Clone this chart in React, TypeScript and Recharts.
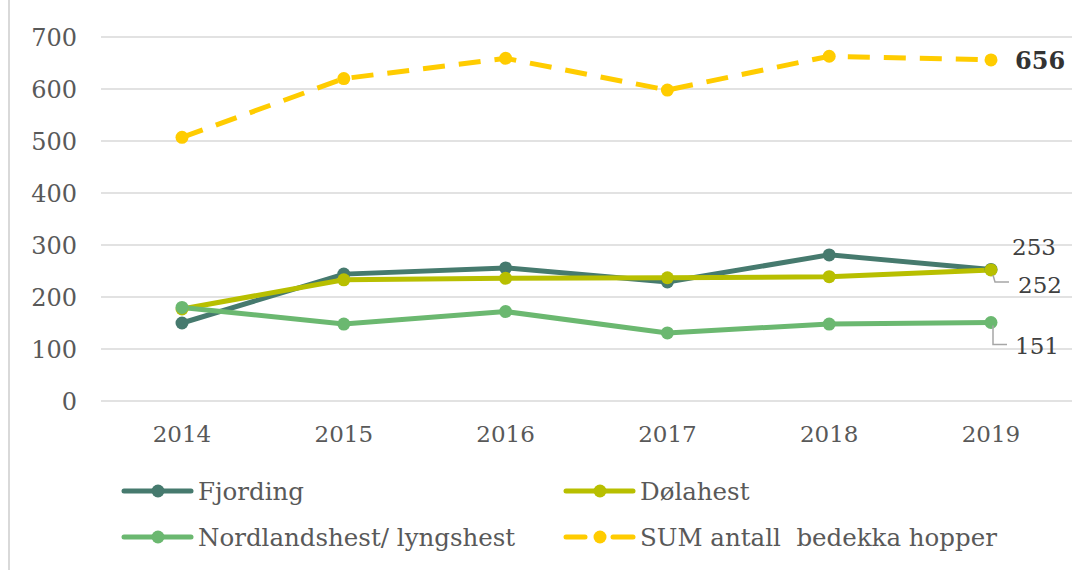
import React from "react";
import {
  LineChart,
  Line,
  XAxis,
  YAxis,
  CartesianGrid,
  LabelList,
} from "recharts";

const years = ["2014", "2015", "2016", "2017", "2018", "2019"];
const fjording = [150, 244, 256, 229, 281, 253];
const dolahest = [177, 233, 236, 237, 239, 252];
const nordland = [180, 148, 172, 131, 148, 151];
const sumHopper = [507, 620, 659, 598, 663, 656];
const yTicks = [0, 100, 200, 300, 400, 500, 600, 700];

const FONT = "'DejaVu Serif', serif";
const TEXT = "#595959";

// series colours
const C_FJORD = "#467a6e";
const C_DOLA = "#b8bf00";
const C_NORD = "#6bb870";
const C_SUM = "#ffcc00";

const chartData = years.map((year, i) => ({
  year,
  fjording: fjording[i],
  dolahest: dolahest[i],
  nordland: nordland[i],
  sum: sumHopper[i],
}));

const last = years.length - 1;

// end-of-line value labels
const sumLabel = (props: any) => {
  if (props.index !== last) return null;
  return (
    <text x={props.x + 24} y={props.y + 9} fontSize={24} fontWeight="bold" fill="#333" fontFamily={FONT}>
      {props.value}
    </text>
  );
};

const fjordLabel = (props: any) => {
  if (props.index !== last) return null;
  return (
    <text x={props.x + 21} y={props.y - 14} fontSize={23} fill="#404040" fontFamily={FONT}>
      {props.value}
    </text>
  );
};

const dolaLabel = (props: any) => {
  if (props.index !== last) return null;
  const { x, y } = props;
  return (
    <g>
      <polyline points={`${x + 2},${y + 5} ${x + 4},${y + 12} ${x + 18},${y + 12}`} fill="none" stroke="#a6a6a6" strokeWidth={1.5} />
      <text x={x + 27} y={y + 23} fontSize={23} fill="#404040" fontFamily={FONT}>
        {props.value}
      </text>
    </g>
  );
};

const nordLabel = (props: any) => {
  if (props.index !== last) return null;
  const { x, y } = props;
  return (
    <g>
      <polyline points={`${x + 2},${y + 3} ${x + 2},${y + 22} ${x + 16},${y + 22}`} fill="none" stroke="#a6a6a6" strokeWidth={1.5} />
      <text x={x + 24} y={y + 32} fontSize={23} fill="#404040" fontFamily={FONT}>
        {props.value}
      </text>
    </g>
  );
};

const legendItems = [
  { name: "Fjording", color: C_FJORD, dashed: false, left: 121, top: 491 },
  { name: "Dølahest", color: C_DOLA, dashed: false, left: 563, top: 491 },
  { name: "Nordlandshest/ lyngshest", color: C_NORD, dashed: false, left: 121, top: 537 },
  { name: "SUM antall  bedekka hopper", color: C_SUM, dashed: true, left: 563, top: 537 },
];

function LegendRow({ item }: { item: (typeof legendItems)[number] }) {
  return (
    <div
      style={{
        position: "absolute",
        left: item.left,
        top: item.top - 16,
        height: 32,
        display: "flex",
        alignItems: "center",
      }}
    >
      <svg width={76} height={16}>
        {item.dashed ? (
          <>
            <line x1={3} y1={8} x2={22} y2={8} stroke={item.color} strokeWidth={5} strokeLinecap="round" />
            <line x1={50} y1={8} x2={70} y2={8} stroke={item.color} strokeWidth={5} strokeLinecap="round" />
          </>
        ) : (
          <line x1={3} y1={8} x2={70} y2={8} stroke={item.color} strokeWidth={5} strokeLinecap="round" />
        )}
        <circle cx={37} cy={8} r={6.5} fill={item.color} />
      </svg>
      <span style={{ fontFamily: FONT, fontSize: 24.5, color: TEXT, whiteSpace: "pre", marginLeft: 1 }}>
        {item.name}
      </span>
    </div>
  );
}

export default function App() {
  return (
    <div
      style={{
        position: "absolute",
        left: 0,
        top: 0,
        width: 1090,
        height: 570,
        background: "#fff",
        overflow: "hidden",
      }}
    >
      <div style={{ position: "absolute", left: 8, top: 0, width: 2, height: 570, background: "#d9d9d9" }} />
      <LineChart
        width={1090}
        height={570}
        data={chartData}
        margin={{ top: 37, right: 18, bottom: 109, left: 0 }}
      >
        <CartesianGrid vertical={false} stroke="#d9d9d9" strokeWidth={1.5} />
        <XAxis
          dataKey="year"
          axisLine={false}
          tickLine={false}
          tickSize={0}
          tickMargin={25}
          height={60}
          padding={{ left: 81, right: 81 }}
          tick={{ fill: TEXT, fontSize: 23, fontFamily: FONT }}
        />
        <YAxis
          domain={[0, 700]}
          ticks={yTicks}
          axisLine={false}
          tickLine={false}
          tickSize={0}
          tickMargin={24}
          width={101}
          tick={{ fill: TEXT, fontSize: 24, fontFamily: FONT }}
        />
        <Line
          dataKey="fjording"
          stroke={C_FJORD}
          strokeWidth={5}
          dot={{ r: 6.5, fill: C_FJORD, stroke: "none" }}
          isAnimationActive={false}
        >
          <LabelList dataKey="fjording" content={fjordLabel} />
        </Line>
        <Line
          dataKey="dolahest"
          stroke={C_DOLA}
          strokeWidth={5}
          dot={{ r: 6.5, fill: C_DOLA, stroke: "none" }}
          isAnimationActive={false}
        >
          <LabelList dataKey="dolahest" content={dolaLabel} />
        </Line>
        <Line
          dataKey="nordland"
          stroke={C_NORD}
          strokeWidth={5}
          dot={{ r: 6.5, fill: C_NORD, stroke: "none" }}
          isAnimationActive={false}
        >
          <LabelList dataKey="nordland" content={nordLabel} />
        </Line>
        <Line
          dataKey="sum"
          stroke={C_SUM}
          strokeWidth={5}
          strokeDasharray="22 14"
          dot={{ r: 6.5, fill: C_SUM, stroke: "none" }}
          isAnimationActive={false}
        >
          <LabelList dataKey="sum" content={sumLabel} />
        </Line>
      </LineChart>
      {legendItems.map((item) => (
        <LegendRow key={item.name} item={item} />
      ))}
    </div>
  );
}
